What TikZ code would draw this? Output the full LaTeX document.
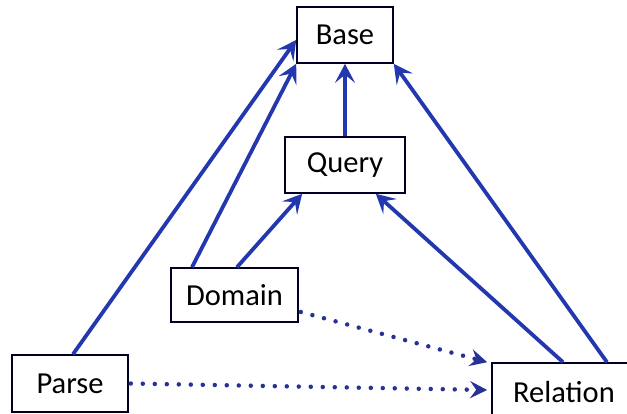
\documentclass[tikz,border=0pt]{standalone}
\usepackage{fontspec}
\setmainfont{Carlito}
\usetikzlibrary{arrows.meta}
\definecolor{arrowblue}{RGB}{35,55,175}
\definecolor{dotblue}{RGB}{40,50,150}
\begin{document}
\begin{tikzpicture}[x=1pt,y=-1pt,
  box/.style={draw=black!85!blue,line width=1.6pt,fill=white,inner sep=0pt,
    font=\fontsize{30.5}{36}\selectfont},
  solidarrow/.style={draw=arrowblue,line width=3.8pt,
    -{Stealth[length=19pt,width=20pt,inset=8pt]}},
  dotarrow/.style={draw=dotblue,line width=4.5pt,line cap=round,
    dash pattern=on 0pt off 12pt,
    -{Stealth[length=17pt,width=17pt,inset=6pt,line cap=butt]}}]
\useasboundingbox (0,0) rectangle (627,414);
\clip (0,0) rectangle (627,414);
\node[box,minimum width=96pt,minimum height=56pt] (base) at (345,35) {Base};
\node[box,minimum width=120pt,minimum height=56pt] (query) at (345,165) {Query};
\node[box,minimum width=127pt,minimum height=54pt] (domain) at (234.5,295) {Domain};
\node[box,minimum width=116pt,minimum height=57pt] (parse) at (70,383.5) {Parse};
\node[box,minimum width=144pt,minimum height=58pt] (relation) at (564,392) {Relation};
\draw[solidarrow] ([xshift=3pt]parse.north) -- ([yshift=-5pt]base.west);
\draw[solidarrow] ([xshift=-42.5pt]domain.north) -- (base.south west);
\draw[solidarrow] ([xshift=2.5pt]domain.north) -- ([xshift=18pt]query.south west);
\draw[solidarrow] (query.north) -- (base.south);
\draw[solidarrow] ([xshift=-1pt]relation.north) -- ([xshift=-30pt]query.south east);
\draw[solidarrow] ([xshift=43pt]relation.north) -- (base.south east);
\draw[dotarrow] ([xshift=2pt,yshift=-17pt]domain.east) -- ([xshift=-4pt]relation.north west);
\draw[dotarrow] ([xshift=2pt]parse.east) -- ([xshift=-4pt,yshift=2pt]relation.west);
\end{tikzpicture}
\end{document}
